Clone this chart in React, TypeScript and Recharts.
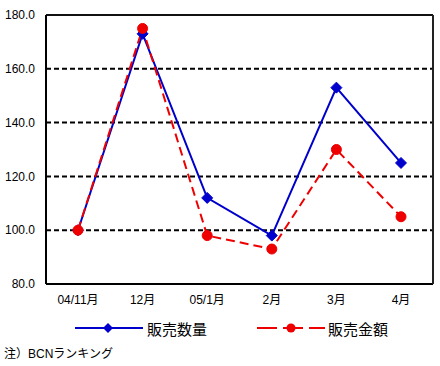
import React from 'react';
import { LineChart, Line, XAxis, YAxis, CartesianGrid } from 'recharts';

const categories = ['04/11月', '12月', '05/1月', '2月', '3月', '4月'];
const quantity = [100, 173, 112, 98, 153, 125];
const amount = [100, 175, 98, 93, 130, 105];
const yTicks = [80, 100, 120, 140, 160, 180];
const seriesNames = ['販売数量', '販売金額'];
const noteText = '注）BCNランキング';

const data = categories.map((c, i) => ({ cat: c, pos: i + 0.5, q: quantity[i], a: amount[i] }));
const boundaryTicks = categories.slice(1).map((_, i) => i + 1);

const FONT = "'Liberation Sans', Arial, 'Noto Sans CJK JP', sans-serif";
const BLUE = '#0000CC';
const RED = '#EE0000';

const Diamond = (props: any) => {
  const { cx, cy } = props;
  if (cx == null || cy == null) return null;
  const r = 5.5;
  return <path d={`M${cx},${cy - r}L${cx + r},${cy}L${cx},${cy + r}L${cx - r},${cy}Z`} fill={BLUE} stroke={BLUE} />;
};

export default function App() {
  return (
    <div style={{ position: 'absolute', left: 0, top: 0, width: 440, height: 366, background: '#fff', fontFamily: FONT }}>
      <LineChart width={440} height={366} data={data} margin={{ top: 14, right: 6, left: 0, bottom: 53 }}>
        <CartesianGrid horizontal vertical={false} stroke="#000" strokeWidth={2} strokeDasharray="5 3" />
        <XAxis
          xAxisId="top"
          orientation="top"
          dataKey="pos"
          type="number"
          domain={[0, categories.length]}
          height={1}
          tick={false}
          tickLine={false}
          axisLine={{ stroke: '#111', strokeWidth: 2 }}
        />
        <XAxis
          xAxisId="bticks"
          dataKey="pos"
          type="number"
          domain={[0, categories.length]}
          ticks={boundaryTicks}
          height={1}
          tick={false}
          mirror
          tickSize={5}
          tickLine={{ stroke: '#000', strokeWidth: 2 }}
          axisLine={{ stroke: '#000', strokeWidth: 2 }}
        />
        <XAxis
          dataKey="cat"
          padding={{ left: 32, right: 32 }}
          interval={0}
          axisLine={false}
          tickLine={false}
          tickSize={6}
          tickMargin={5}
          height={29}
          tick={{ fill: '#000', fontSize: 12, fontFamily: FONT }}
        />
        <YAxis
          domain={[80, 180]}
          ticks={yTicks}
          width={46}
          tickFormatter={(v: number) => v.toFixed(1)}
          axisLine={{ stroke: '#000', strokeWidth: 2 }}
          tickLine={false}
          tickMargin={5}
          tick={{ fill: '#000', fontSize: 12, fontFamily: FONT }}
        />
        <YAxis
          yAxisId="right"
          orientation="right"
          domain={[80, 180]}
          width={1}
          tick={false}
          tickLine={false}
          axisLine={{ stroke: '#222', strokeWidth: 2 }}
        />
        <Line xAxisId="top" yAxisId="right" dataKey="q" stroke="none" dot={false} activeDot={false} legendType="none" isAnimationActive={false} />
        <Line xAxisId="bticks" dataKey="q" stroke="none" dot={false} activeDot={false} legendType="none" isAnimationActive={false} />
        <Line
          dataKey="q"
          name={seriesNames[0]}
          stroke={BLUE}
          strokeWidth={2}
          dot={<Diamond />}
          activeDot={false}
          isAnimationActive={false}
        />
        <Line
          dataKey="a"
          name={seriesNames[1]}
          stroke={RED}
          strokeWidth={2}
          strokeDasharray="9 5"
          dot={{ r: 5, fill: RED, stroke: RED, strokeWidth: 1, strokeDasharray: '' }}
          activeDot={false}
          isAnimationActive={false}
        />
      </LineChart>
      <div style={{ position: 'absolute', left: 75, top: 317, display: 'flex', alignItems: 'center', fontSize: 15, color: '#000', fontFamily: FONT }}>
        <svg width={70} height={22} style={{ display: 'block' }}>
          <line x1={0} y1={11} x2={68} y2={11} stroke={BLUE} strokeWidth={2} />
          <path d="M33,6L38,11L33,16L28,11Z" fill={BLUE} />
        </svg>
        <span style={{ marginLeft: 2 }}>{seriesNames[0]}</span>
      </div>
      <div style={{ position: 'absolute', left: 257, top: 317, display: 'flex', alignItems: 'center', fontSize: 15, color: '#000', fontFamily: FONT }}>
        <svg width={70} height={22} style={{ display: 'block' }}>
          <line x1={0} y1={11} x2={68} y2={11} stroke={RED} strokeWidth={2} strokeDasharray="20 6 20 6" />
          <circle cx={34} cy={11} r={4.5} fill={RED} />
        </svg>
        <span style={{ marginLeft: 1 }}>{seriesNames[1]}</span>
      </div>
      <div style={{ position: 'absolute', left: 4, top: 344, fontSize: 12, color: '#000', fontFamily: FONT }}>{noteText}</div>
    </div>
  );
}
